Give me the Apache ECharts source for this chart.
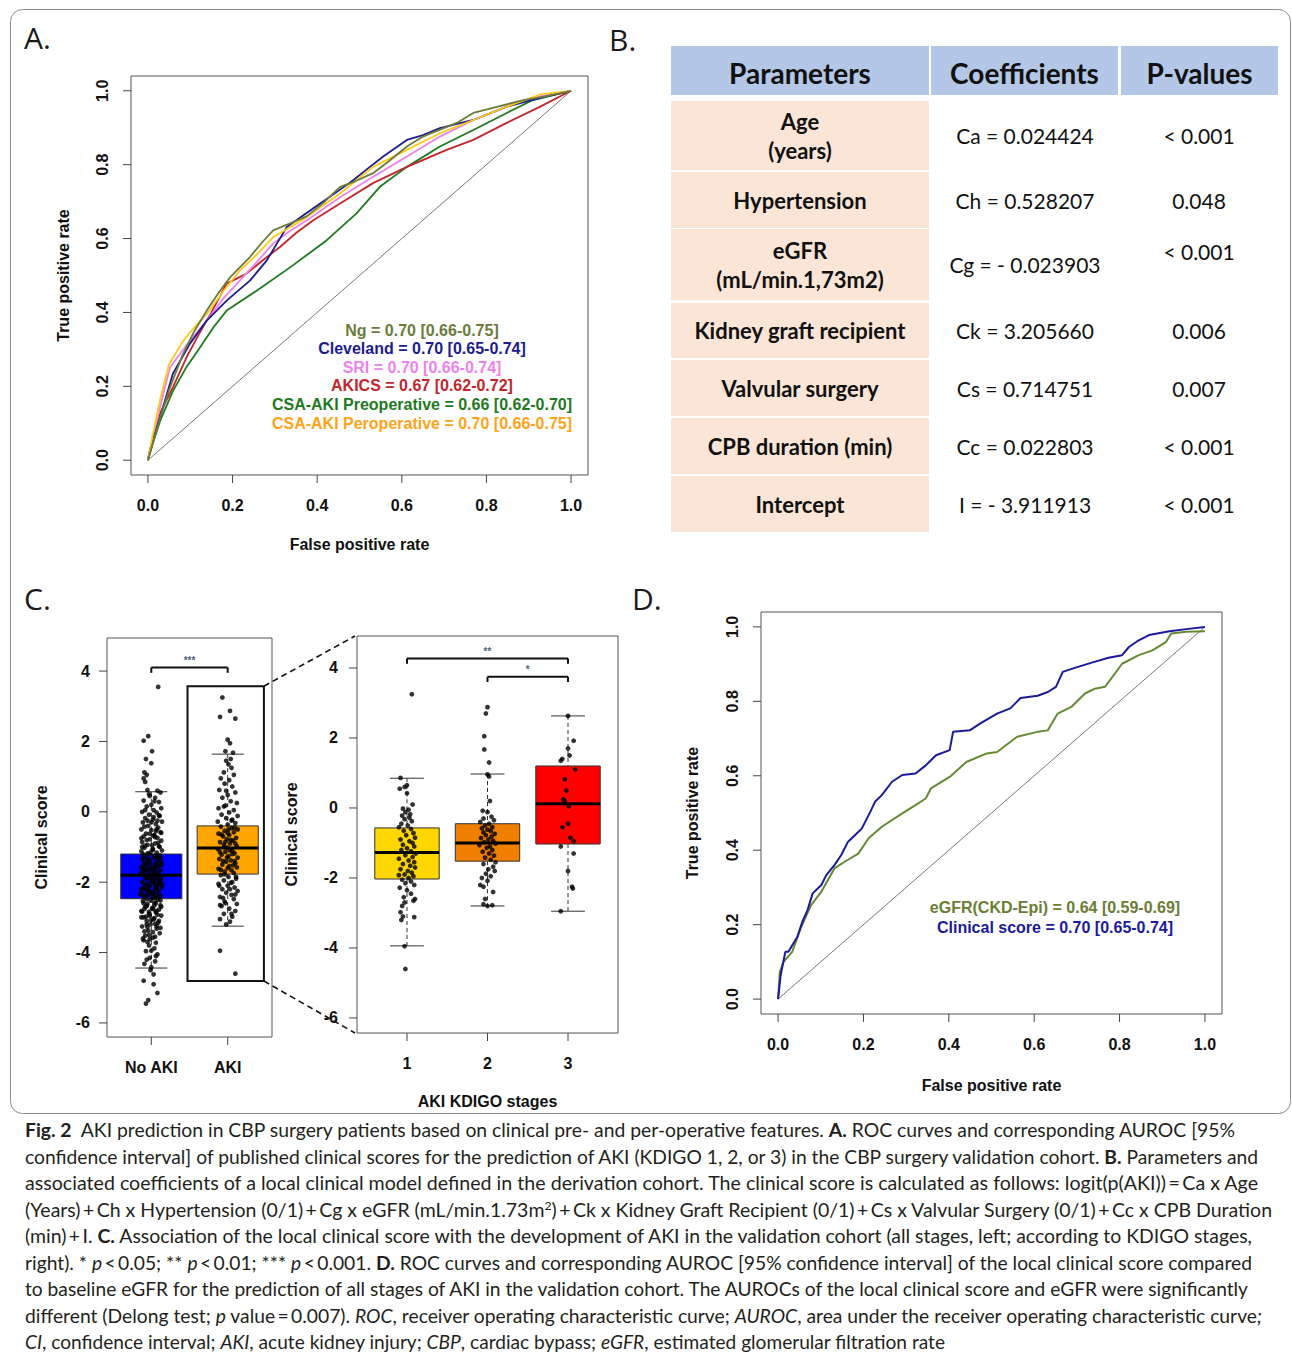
<!DOCTYPE html>
<html><head><meta charset="utf-8">
<script src="https://cdn.jsdelivr.net/npm/echarts@6.0.0/dist/echarts.min.js"></script>
<style>
html,body{margin:0;padding:0;background:#fff;}
#chart{position:absolute;left:0;top:0;width:1292px;height:1118px;}
#caption{position:absolute;left:25px;top:1117px;font-family:Lato,'Open Sans',sans-serif;font-size:19px;line-height:26.5px;color:#231f20;}
#caption .ln{white-space:nowrap;transform-origin:0 0;width:max-content;}
</style></head><body>
<div id="chart"></div>
<div id="caption"></div>
<script>
// ---------------- DATA ----------------
const TICKS01 = [0, 0.2, 0.4, 0.6, 0.8, 1.0];
const TICKS_SCORE = [-6, -4, -2, 0, 2, 4];
const TICKS_ALL = [1, 2];
const TICKS_STAGE = [1, 2, 3];
const CATS_ALL = ['No AKI', 'AKI'];
const CATS_STAGE = ['1', '2', '3'];

// Panel A ROC curves [fpr, tpr]
const ROC_NG = [[0,0],[0.01,0.04],[0.03,0.12],[0.05,0.19],[0.083,0.288],[0.11,0.35],[0.139,0.405],[0.165,0.45],[0.194,0.495],[0.241,0.55],[0.27,0.59],[0.296,0.622],[0.336,0.641],[0.375,0.66],[0.414,0.696],[0.454,0.74],[0.49,0.755],[0.532,0.777],[0.57,0.81],[0.612,0.849],[0.65,0.876],[0.69,0.895],[0.73,0.913],[0.769,0.94],[0.82,0.955],[0.887,0.975],[0.94,0.985],[1,1]];
const ROC_CLEVELAND = [[0,0],[0.005,0.03],[0.028,0.114],[0.059,0.234],[0.099,0.315],[0.139,0.378],[0.186,0.432],[0.241,0.486],[0.281,0.541],[0.328,0.631],[0.37,0.665],[0.407,0.695],[0.445,0.725],[0.485,0.758],[0.52,0.79],[0.556,0.822],[0.612,0.867],[0.65,0.88],[0.69,0.899],[0.769,0.921],[0.848,0.957],[0.927,0.981],[1,1]];
const ROC_SRI = [[0,0],[0.01,0.05],[0.03,0.15],[0.052,0.251],[0.09,0.31],[0.139,0.378],[0.18,0.44],[0.217,0.486],[0.26,0.54],[0.296,0.587],[0.335,0.62],[0.375,0.649],[0.454,0.712],[0.532,0.767],[0.612,0.822],[0.69,0.876],[0.769,0.921],[0.848,0.957],[0.927,0.985],[1,1]];
const ROC_AKICS = [[0,0],[0.01,0.05],[0.03,0.13],[0.06,0.2],[0.091,0.278],[0.12,0.34],[0.15,0.4],[0.186,0.478],[0.233,0.505],[0.27,0.54],[0.312,0.577],[0.35,0.615],[0.39,0.649],[0.454,0.695],[0.532,0.75],[0.612,0.794],[0.706,0.84],[0.769,0.867],[0.848,0.913],[0.927,0.957],[1,1]];
const ROC_CSA_PRE = [[0,0],[0.01,0.04],[0.03,0.11],[0.059,0.187],[0.09,0.25],[0.123,0.305],[0.155,0.36],[0.186,0.405],[0.257,0.459],[0.336,0.522],[0.422,0.595],[0.493,0.668],[0.548,0.74],[0.612,0.794],[0.69,0.849],[0.769,0.894],[0.848,0.94],[0.91,0.975],[1,1]];
const ROC_CSA_PER = [[0,0],[0.01,0.06],[0.03,0.17],[0.05,0.26],[0.083,0.323],[0.11,0.36],[0.139,0.396],[0.18,0.46],[0.217,0.513],[0.26,0.56],[0.296,0.604],[0.335,0.63],[0.375,0.658],[0.454,0.722],[0.532,0.794],[0.612,0.84],[0.69,0.885],[0.769,0.921],[0.848,0.957],[0.927,0.99],[1,1]];
const DIAG = [[0,0],[1,1]];
const LEG_A = ['Ng = 0.70 [0.66-0.75]','Cleveland = 0.70 [0.65-0.74]','SRI = 0.70 [0.66-0.74]','AKICS = 0.67 [0.62-0.72]','CSA-AKI Preoperative = 0.66 [0.62-0.70]','CSA-AKI Peroperative = 0.70 [0.66-0.75]'];

// Panel B table
const HEADERS = ['Parameters', 'Coefficients', 'P-values'];
const PARAMS = ['Age\n(years)', 'Hypertension', 'eGFR\n(mL/min.1,73m2)', 'Kidney graft recipient', 'Valvular surgery', 'CPB duration (min)', 'Intercept'];
const COEFS = ['Ca = 0.024424', 'Ch = 0.528207', 'Cg = - 0.023903', 'Ck = 3.205660', 'Cs = 0.714751', 'Cc = 0.022803', 'I = - 3.911913'];
const PVALS = ['< 0.001', '0.048', '< 0.001', '0.006', '0.007', '< 0.001', '< 0.001'];

// Panel C boxplots [position, lowerWhisker, Q1, median, Q3, upperWhisker]
const BOX_ALL = [[1, -4.44, -2.47, -1.8, -1.2, 0.57], [2, -3.25, -1.77, -1.03, -0.4, 1.64]];
const BOX_STAGE = [[1, -3.94, -2.03, -1.27, -0.57, 0.85], [2, -2.8, -1.52, -1.0, -0.45, 0.97], [3, -2.95, -1.03, 0.12, 1.2, 2.63]];
// jittered points [offset from group position, score]
const PTS_NOAKI = [[0.09,3.55],[-0.04,2.15],[-0.1,2.02],[0.01,1.72],[-0.07,1.5],[0.0,1.38],[-0.09,1.12],[-0.06,1.05],[-0.1,0.95],[-0.08,0.85],[-0.05,0.62],[0.08,0.6],[0.12,0.55],
[-0.02,0.45],[0.05,0.4],[-0.1,0.32],[0.1,0.28],[0.0,0.2],[-0.06,0.15],[0.13,0.1],[0.03,0.05],[-0.12,0.0],[0.07,-0.02],[-0.03,-0.08],[0.11,-0.12],[-0.08,-0.18],[0.02,-0.22],[0.14,-0.28],[-0.11,-0.3],[0.06,-0.35],[-0.04,-0.4],[0.09,-0.45],[-0.13,-0.5],[0.0,-0.52],[0.12,-0.58],[-0.07,-0.62],[0.04,-0.66],[-0.1,-0.7],[0.08,-0.74],[-0.02,-0.78],[0.13,-0.82],[-0.12,-0.86],[0.05,-0.9],[-0.05,-0.94],[0.1,-0.98],[-0.09,-1.02],[0.02,-1.05],[0.14,-1.1],[-0.13,-1.12],[0.07,-1.16],[-0.03,-1.2],
[0.11,-1.24],[-0.08,-1.27],[0.03,-1.3],[-0.12,-1.33],[0.08,-1.36],[-0.02,-1.39],[0.13,-1.42],[-0.06,-1.45],[0.05,-1.48],[-0.1,-1.5],[0.1,-1.53],[0.0,-1.56],[-0.13,-1.58],[0.06,-1.61],[-0.04,-1.64],[0.12,-1.66],[-0.09,-1.69],[0.02,-1.72],[0.09,-1.75],[-0.11,-1.78],[0.04,-1.8],[-0.05,-1.83],[0.13,-1.86],[-0.08,-1.88],[0.07,-1.91],[-0.01,-1.94],[0.11,-1.97],[-0.12,-2.0],[0.03,-2.02],[-0.06,-2.05],[0.09,-2.08],[-0.03,-2.11],[0.14,-2.14],[-0.1,-2.16],[0.05,-2.19],[-0.07,-2.22],[0.1,-2.25],[0.0,-2.28],[-0.13,-2.3],[0.07,-2.33],[-0.04,-2.36],[0.12,-2.39],[-0.09,-2.42],[0.02,-2.45],
[0.08,-2.5],[-0.11,-2.54],[0.04,-2.58],[-0.05,-2.62],[0.12,-2.66],[-0.08,-2.7],[0.01,-2.74],[0.1,-2.78],[-0.13,-2.82],[0.06,-2.86],[-0.03,-2.9],[0.13,-2.95],[-0.1,-3.0],[0.03,-3.05],[-0.06,-3.1],[0.09,-3.15],[-0.01,-3.2],[-0.12,-3.26],[0.07,-3.32],[-0.04,-3.38],[0.11,-3.45],[-0.08,-3.52],[0.02,-3.58],[-0.1,-3.65],[0.06,-3.72],[-0.03,-3.8],[0.04,-3.88],[-0.07,-3.96],[0.08,-4.05],[-0.02,-4.15],[0.05,-4.25],[-0.09,-4.32],[0.0,-4.42],
[-0.01,-4.5],[0.03,-4.62],[-0.1,-4.8],[0.03,-4.9],[0.08,-5.15],[-0.04,-5.35],[-0.07,-5.45],
[0.0,-0.3],[0.06,-0.55],[-0.06,-0.8],[0.01,-0.95],[-0.01,-1.15],[0.04,-1.25],[-0.04,-1.35],[0.07,-1.45],[-0.07,-1.55],[0.0,-1.62],[0.04,-1.7],[-0.03,-1.76],[0.06,-1.84],[-0.06,-1.9],[0.0,-1.98],[0.05,-2.04],[-0.02,-2.1],[0.07,-2.18],[-0.05,-2.24],[0.02,-2.3],[-0.08,-2.38],[0.04,-2.44],[-0.01,-2.52],[0.06,-2.6],[-0.06,-2.68],[0.02,-2.76],[-0.03,-2.84],[0.08,-2.92],[-0.07,-2.98],[0.0,-3.08],[0.05,-3.18],[-0.05,-3.28],[0.02,-3.42],[-0.02,-3.62],[0.1,-0.1],[-0.09,-0.42],[0.03,-0.68],[-0.12,-1.0],[0.12,-1.3],[-0.12,-1.62],[0.12,-1.92],[-0.13,-2.2],[0.12,-2.52],[-0.12,-2.84],[0.1,-3.1],[-0.09,-3.4],[0.09,-0.88],[-0.1,-1.4],[0.1,-2.0],[-0.1,-2.6],
[0.13,-0.6],[-0.13,-0.75],[0.11,-1.0],[-0.11,-1.2],[0.14,-1.5],[-0.14,-1.75],[0.14,-2.05],[-0.14,-2.35],[0.13,-2.7],[-0.13,-3.0],[0.12,-3.3],[-0.11,-3.6],[0.03,-0.15],[-0.05,-0.25],[0.07,-0.5],[-0.02,-0.62],[0.05,-0.72],[-0.08,-0.96],[0.02,-1.08],[-0.05,-1.18],[0.09,-1.28],[-0.02,-1.46],[0.05,-1.58],[-0.08,-1.66],[0.08,-1.8],[-0.01,-1.86],[0.03,-1.94],[-0.09,-2.08],[0.06,-2.12],[-0.04,-2.2],[0.01,-2.35],[0.09,-2.42],[-0.06,-2.48],[0.04,-2.66],[-0.09,-2.76],[0.06,-2.82],[-0.02,-2.96],[0.04,-3.02],[-0.06,-3.2],[0.07,-3.25],[-0.03,-3.5],[0.05,-3.55],[-0.05,-3.7],[0.0,-3.95],[0.06,-4.1],[-0.06,-4.2],[0.08,-0.25],[-0.08,0.05],[0.04,0.3],[-0.03,0.5]];
const PTS_AKI = [[-0.07,3.25],[0.03,2.87],[-0.1,2.7],[0.1,2.65],[0.0,2.05],[0.03,1.95],[-0.03,1.72],[0.07,1.68],[-0.02,1.45],[0.01,1.35],[0.05,1.25],[-0.05,1.12],[0.08,1.05],[-0.09,0.95],[0.02,0.9],[-0.04,0.8],[0.06,0.72],[-0.11,0.62],[0.1,0.55],[0.0,0.48],[-0.07,0.4],[0.04,0.3],[0.12,0.25],[-0.03,0.18],[-0.12,0.1],[0.08,0.05],[0.02,-0.02],[-0.08,-0.08],[0.13,-0.12],[-0.02,-0.18],[0.06,-0.22],[-0.13,-0.28],[0.1,-0.32],[0.0,-0.36],
[-0.09,-0.42],[0.05,-0.46],[0.13,-0.5],[-0.04,-0.54],[0.08,-0.58],[-0.12,-0.62],[0.02,-0.66],[-0.06,-0.7],[0.11,-0.74],[-0.01,-0.78],[0.07,-0.82],[-0.1,-0.86],[0.03,-0.9],[-0.05,-0.94],[0.12,-0.98],[0.0,-1.02],[-0.13,-1.06],[0.06,-1.1],[-0.03,-1.14],[0.09,-1.18],[-0.08,-1.22],[0.01,-1.26],[0.13,-1.3],[-0.11,-1.34],[0.04,-1.38],[-0.02,-1.42],[0.1,-1.46],[-0.07,-1.5],[0.02,-1.54],[0.12,-1.58],[-0.12,-1.62],[0.05,-1.66],[-0.04,-1.7],[0.08,-1.74],
[-0.09,-1.8],[0.01,-1.85],[0.11,-1.9],[-0.05,-1.95],[0.06,-2.0],[-0.12,-2.05],[0.0,-2.1],[0.09,-2.15],[-0.07,-2.2],[0.13,-2.25],[-0.02,-2.3],[0.05,-2.36],[-0.1,-2.42],[0.08,-2.48],[-0.04,-2.55],[0.12,-2.62],[-0.08,-2.68],[0.02,-2.75],[0.1,-2.82],[-0.05,-2.9],[0.06,-2.98],[-0.1,-3.05],[0.03,-3.12],[-0.02,-3.2],[-0.1,-3.95],[0.1,-4.6],
[0.0,-0.6],[0.04,-0.8],[-0.04,-1.0],[0.06,-1.2],[-0.06,-1.4],[0.0,-1.6],[0.03,-2.2],[-0.03,-2.6],[0.05,-0.25],[-0.05,0.15],
[0.09,-0.45],[-0.08,-0.65],[0.1,-0.9],[-0.1,-1.15],[0.09,-1.4],[-0.09,-1.65],[0.11,-1.85],[-0.11,-2.1],[0.1,-2.35],[-0.1,-2.65],[0.05,-2.9],[-0.03,-0.85],[0.03,-1.1],[-0.01,-1.3],[0.07,-1.52],[-0.04,-1.78],[0.04,-2.02],[-0.06,-2.45],[0.01,-0.5],[-0.02,0.6],[0.04,1.5]];
const PTS_STAGE1 = [[0.06,3.25],[-0.08,0.86],[0.0,0.65],[-0.03,0.6],[-0.09,0.55],[0.0,0.42],[0.07,0.1],[-0.05,-0.02],[0.02,-0.05],[-0.02,-0.12],[0.04,-0.18],[-0.06,-0.22],[0.03,-0.28],[-0.03,-0.32],[0.06,-0.38],[-0.07,-0.45],[0.01,-0.5],[-0.1,-0.55],[0.05,-0.6],[-0.04,-0.65],[0.08,-0.72],[-0.01,-0.78],[0.1,-0.85],[-0.08,-0.9],[0.03,-0.95],[0.07,-1.0],[-0.05,-1.05],[0.09,-1.1],[0.0,-1.15],[-0.07,-1.2],[0.05,-1.24],[0.11,-1.3],[-0.02,-1.35],[0.07,-1.4],[-0.1,-1.45],[0.02,-1.5],[0.09,-1.55],[-0.05,-1.6],[0.04,-1.65],[0.1,-1.7],[-0.08,-1.75],[0.01,-1.8],[0.06,-1.85],[-0.03,-1.9],[-0.1,-1.92],[0.08,-1.95],[0.02,-2.0],[-0.06,-2.05],[0.05,-2.1],[-0.02,-2.15],[0.09,-2.2],[-0.09,-2.28],[0.0,-2.35],[0.05,-2.45],[-0.04,-2.55],[0.1,-2.6],[0.08,-2.65],[-0.03,-2.7],[-0.06,-2.8],[-0.08,-2.98],[-0.05,-3.1],[0.09,-3.12],[-0.07,-3.2],[-0.03,-3.95],[-0.02,-4.6]];
const PTS_STAGE2 = [[0.0,2.88],[-0.02,2.7],[-0.04,2.05],[-0.04,1.67],[0.02,1.3],[0.0,0.96],[0.02,0.9],[0.03,0.2],[-0.06,-0.08],[0.0,-0.12],[-0.05,-0.3],[0.05,-0.25],[0.08,-0.35],[-0.09,-0.4],[0.02,-0.45],[-0.03,-0.5],[0.06,-0.55],[-0.07,-0.58],[0.0,-0.62],[0.04,-0.66],[-0.05,-0.7],[0.09,-0.74],[-0.02,-0.78],[0.05,-0.82],[-0.08,-0.86],[0.01,-0.9],[0.07,-0.94],[-0.04,-0.98],[0.1,-1.02],[-0.1,-1.06],[0.03,-1.1],[-0.01,-1.14],[0.06,-1.2],[-0.06,-1.25],[0.02,-1.3],[0.08,-1.36],[-0.03,-1.42],[0.04,-1.48],[0.1,-1.55],[-0.05,-1.6],[0.07,-1.68],[0.01,-1.75],[0.09,-1.8],[-0.02,-1.88],[0.04,-1.95],[-0.07,-2.0],[0.0,-2.08],[-0.09,-2.2],[-0.05,-2.25],[0.07,-2.4],[-0.03,-2.6],[-0.05,-2.75],[0.06,-2.78],[0.0,-2.8]];
const PTS_STAGE3 = [[0.0,2.63],[0.07,1.92],[0.0,1.7],[0.02,1.5],[-0.07,1.4],[-0.09,1.35],[0.09,1.1],[-0.04,0.82],[-0.02,0.5],[-0.06,0.25],[-0.04,0.2],[0.01,0.05],[0.0,-0.45],[-0.07,-0.55],[0.03,-0.85],[0.07,-0.95],[-0.09,-1.1],[0.07,-1.3],[0.0,-1.8],[0.05,-2.25],[0.06,-2.3],[-0.09,-2.95]];
// significance brackets [from, to, height]
const SIG_ALL = [[1, 2, 4.1]];
const SIG_ALL_LABELS = ['***'];
const SIG_STAGE = [[1, 3, 4.27], [2, 3, 3.75]];
const SIG_STAGE_LABELS = ['**', '*'];
// zoom box around AKI group [x1, x2, yLow, yHigh]
const ZOOM_BOX = [[1.474, 2.474, -4.81, 3.57]];

// Panel D ROC curves
const ROC_EGFR = [[0,0],[0.004,0.073],[0.013,0.1],[0.033,0.127],[0.053,0.19],[0.077,0.252],[0.101,0.288],[0.132,0.351],[0.156,0.369],[0.188,0.391],[0.212,0.432],[0.243,0.463],[0.291,0.499],[0.322,0.521],[0.346,0.539],[0.358,0.566],[0.402,0.597],[0.441,0.637],[0.489,0.66],[0.513,0.664],[0.56,0.705],[0.608,0.718],[0.632,0.722],[0.655,0.767],[0.687,0.785],[0.719,0.821],[0.742,0.834],[0.766,0.839],[0.806,0.901],[0.845,0.924],[0.877,0.937],[0.909,0.96],[0.921,0.982],[0.956,0.987],[1,0.988]];
const ROC_SCORE = [[0,0],[0.006,0.064],[0.017,0.127],[0.024,0.127],[0.045,0.167],[0.057,0.208],[0.069,0.239],[0.081,0.284],[0.101,0.306],[0.113,0.333],[0.132,0.36],[0.148,0.387],[0.164,0.423],[0.18,0.44],[0.196,0.458],[0.216,0.503],[0.227,0.53],[0.243,0.548],[0.267,0.584],[0.291,0.602],[0.322,0.606],[0.346,0.628],[0.37,0.655],[0.402,0.669],[0.41,0.718],[0.449,0.722],[0.473,0.74],[0.513,0.767],[0.544,0.781],[0.568,0.809],[0.608,0.815],[0.632,0.825],[0.651,0.839],[0.667,0.879],[0.695,0.89],[0.735,0.904],[0.774,0.917],[0.806,0.924],[0.822,0.946],[0.845,0.964],[0.869,0.978],[0.917,0.988],[0.956,0.994],[1,1]];
const LEG_D = ['eGFR(CKD-Epi) = 0.64 [0.59-0.69]', 'Clinical score = 0.70 [0.65-0.74]'];

// Caption
const CAPTION_LINES = [
 '<b>Fig.\u00a02</b>\u00a0\u00a0AKI prediction in CBP surgery patients based on clinical pre- and per-operative features. <b>A.</b> ROC curves and corresponding AUROC [95%',
 'confidence interval] of published clinical scores for the prediction of AKI (KDIGO 1, 2, or 3) in the CBP surgery validation cohort. <b>B.</b> Parameters and',
 'associated coefficients of a local clinical model defined in the derivation cohort. The clinical score is calculated as follows: logit(p(AKI))\u2009=\u2009Ca x Age',
 '(Years)\u2009+\u2009Ch x Hypertension (0/1)\u2009+\u2009Cg x eGFR (mL/min.1.73m<sup style="font-size:12px;line-height:0">2</sup>)\u2009+\u2009Ck x Kidney Graft Recipient (0/1)\u2009+\u2009Cs x Valvular Surgery (0/1)\u2009+\u2009Cc x CPB Duration',
 '(min)\u2009+\u2009I. <b>C.</b> Association of the local clinical score with the development of AKI in the validation cohort (all stages, left; according to KDIGO stages,',
 'right). * <i>p</i>\u2009&lt;\u20090.05; ** <i>p</i>\u2009&lt;\u20090.01; *** <i>p</i>\u2009&lt;\u20090.001. <b>D.</b> ROC curves and corresponding AUROC [95% confidence interval] of the local clinical score compared',
 'to baseline eGFR for the prediction of all stages of AKI in the validation cohort. The AUROCs of the local clinical score and eGFR were significantly',
 'different (Delong test; <i>p</i> value\u2009=\u20090.007). <i>ROC</i>, receiver operating characteristic curve; <i>AUROC</i>, area under the receiver operating characteristic curve<i>;</i>',
 '<i>CI</i>, confidence interval; <i>AKI</i>, acute kidney injury; <i>CBP</i>, cardiac bypass; <i>eGFR</i>, estimated glomerular filtration rate'
];

// ---------------- STYLE / LAYOUT ----------------
const FONT = "'Liberation Sans', Arial, Helvetica, sans-serif";
const COL_A = ['#6b7b3b', '#1c1c8c', '#ee82ee', '#c0272d', '#1f7a1f', '#ffc81a'];
const COL_A_TEXT = ['#6b7b3b', '#1c1c8c', '#ee82ee', '#c0272d', '#1f7a1f', '#ffa31a'];
const COL_BOX_ALL = ['#0000ff', '#ffa500'];
const COL_BOX_STAGE = ['#ffd700', '#f07f00', '#ff0000'];
const COL_D = ['#668a34', '#1a1a9a'];
const COL_D_TEXT = ['#6b7d35', '#1a1a9a'];
const CAP_W = [1210, 1233, 1233, 1247, 1227, 1227, 1223, 1237, 920];
const TICK_LEN = 8;

// axis extents [xMin, xMax, yMin, yMax] per grid (R-style 4% padding)
const EXT = [
  [-0.04, 1.04, -0.04, 1.04],
  [0.42, 2.58, -6.4, 4.94],
  [0.379, 3.621, -6.43, 4.914],
  [-0.04, 1.04, -0.04, 1.04]
];

const fmt1 = v => v.toFixed(1);
function mkAxis(gridIndex, min, max, ticks, fmt, o) {
  o = o || {};
  return {
    type: 'value', gridIndex, min, max,
    axisLine: {show: false, onZero: false}, splitLine: {show: false},
    axisTick: {show: false},
    axisLabel: {customValues: ticks, formatter: fmt, color: '#111', fontFamily: FONT, fontWeight: 'bold', fontSize: 16, margin: o.margin || 21, rotate: o.rotate || 0},
    name: o.name || '', nameLocation: 'middle', nameGap: o.nameGap || 60,
    nameTextStyle: {color: '#111', fontFamily: FONT, fontWeight: 'bold', fontSize: 16}
  };
}
const gridStyle = {show: true, borderColor: '#555', borderWidth: 1, backgroundColor: 'transparent', containLabel: false};

// R-style outward ticks drawn on the frame through the axis scales
function tickSeries(gi, vals, dir) {
  const e = EXT[gi];
  return {
    type: 'custom', xAxisIndex: gi, yAxisIndex: gi, clip: false, silent: true, z: 6,
    data: vals.map(v => [v]),
    renderItem: function (params, api) {
      const v = api.value(0);
      if (dir === 'x') {
        const p = api.coord([v, e[2]]);
        return {type: 'line', shape: {x1: p[0], y1: p[1], x2: p[0], y2: p[1] + TICK_LEN}, style: {stroke: '#444', lineWidth: 1}};
      }
      const p = api.coord([e[0], v]);
      return {type: 'line', shape: {x1: p[0], y1: p[1], x2: p[0] - TICK_LEN, y2: p[1]}, style: {stroke: '#444', lineWidth: 1}};
    }
  };
}

function boxRender(colors) {
  return function (params, api) {
    const p = api.value(0), lo = api.value(1), q1 = api.value(2), md = api.value(3), q3 = api.value(4), hi = api.value(5);
    const a = api.coord([p - 0.4, q3]), b = api.coord([p + 0.4, q1]);
    const m1 = api.coord([p - 0.4, md]), m2 = api.coord([p + 0.4, md]);
    const t = api.coord([p, hi]), bt = api.coord([p, lo]);
    const c1 = api.coord([p - 0.21, hi]), c2 = api.coord([p + 0.21, hi]);
    const d1 = api.coord([p - 0.21, lo]), d2 = api.coord([p + 0.21, lo]);
    const stroke = '#333';
    return {type: 'group', children: [
      {type: 'line', shape: {x1: t[0], y1: t[1], x2: t[0], y2: a[1]}, style: {stroke, lineWidth: 1, lineDash: [4, 3]}},
      {type: 'line', shape: {x1: bt[0], y1: b[1], x2: bt[0], y2: bt[1]}, style: {stroke, lineWidth: 1, lineDash: [4, 3]}},
      {type: 'line', shape: {x1: c1[0], y1: c1[1], x2: c2[0], y2: c2[1]}, style: {stroke, lineWidth: 1}},
      {type: 'line', shape: {x1: d1[0], y1: d1[1], x2: d2[0], y2: d2[1]}, style: {stroke, lineWidth: 1}},
      {type: 'rect', shape: {x: a[0], y: a[1], width: b[0] - a[0], height: b[1] - a[1]}, style: {fill: colors[params.dataIndex], stroke, lineWidth: 1}},
      {type: 'line', shape: {x1: m1[0], y1: m1[1], x2: m2[0], y2: m2[1]}, style: {stroke: '#000', lineWidth: 3}}
    ]};
  };
}
function sigRender(labels) {
  return function (params, api) {
    const x1 = api.value(0), x2 = api.value(1), y = api.value(2);
    const p1 = api.coord([x1, y]), p2 = api.coord([x2, y]);
    const e1 = api.coord([x1, y - 0.15]), e2 = api.coord([x2, y - 0.15]);
    return {type: 'group', children: [
      {type: 'line', shape: {x1: p1[0], y1: p1[1], x2: p2[0], y2: p2[1]}, style: {stroke: '#111', lineWidth: 2}},
      {type: 'line', shape: {x1: e1[0], y1: p1[1], x2: e1[0], y2: e1[1]}, style: {stroke: '#111', lineWidth: 2}},
      {type: 'line', shape: {x1: e2[0], y1: p2[1], x2: e2[0], y2: e2[1]}, style: {stroke: '#111', lineWidth: 2}},
      {type: 'text', x: (p1[0] + p2[0]) / 2, y: p1[1] - 2, style: {text: labels[params.dataIndex], fill: '#55627e', fontSize: 10, fontFamily: FONT, fontWeight: 'bold', align: 'center', verticalAlign: 'bottom'}}
    ]};
  };
}
function zoomRender(params, api) {
  const a = api.coord([api.value(0), api.value(3)]), b = api.coord([api.value(1), api.value(2)]);
  return {type: 'rect', shape: {x: a[0], y: a[1], width: b[0] - a[0], height: b[1] - a[1]}, style: {fill: 'none', stroke: '#111', lineWidth: 2}};
}
function line(data, color, xi, width) {
  return {type: 'line', xAxisIndex: xi, yAxisIndex: xi, data, showSymbol: false, symbol: 'none', lineStyle: {color, width: width || 1.8}, z: 3, silent: true};
}
function pts(data, pos, xi) {
  return {type: 'scatter', xAxisIndex: xi, yAxisIndex: xi, data: data.map(d => [pos + d[0], d[1]]), symbol: 'circle', symbolSize: 4.8, itemStyle: {color: '#000'}, z: 4, silent: true};
}

const chart = echarts.init(document.getElementById('chart'), null, {renderer: 'svg'});
chart.setOption({
  animation: false,
  backgroundColor: '#fff',
  grid: [
    Object.assign({left: 131, top: 76, width: 457, height: 399}, gridStyle),
    Object.assign({left: 107, top: 638, width: 165, height: 399}, gridStyle),
    Object.assign({left: 357, top: 636, width: 261, height: 397}, gridStyle),
    Object.assign({left: 761, top: 612, width: 461, height: 402}, gridStyle)
  ],
  xAxis: [
    mkAxis(0, EXT[0][0], EXT[0][1], TICKS01, fmt1, {name: 'False positive rate', nameGap: 61, margin: 22}),
    mkAxis(1, EXT[1][0], EXT[1][1], TICKS_ALL, v => CATS_ALL[Math.round(v) - 1], {margin: 22}),
    mkAxis(2, EXT[2][0], EXT[2][1], TICKS_STAGE, v => CATS_STAGE[Math.round(v) - 1], {name: 'AKI KDIGO stages', nameGap: 60, margin: 22}),
    mkAxis(3, EXT[3][0], EXT[3][1], TICKS01, fmt1, {name: 'False positive rate', nameGap: 63, margin: 22})
  ],
  yAxis: [
    mkAxis(0, EXT[0][2], EXT[0][3], TICKS01, fmt1, {name: 'True positive rate', nameGap: 60, rotate: 90, margin: 21}),
    mkAxis(1, EXT[1][2], EXT[1][3], TICKS_SCORE, v => String(v), {name: 'Clinical score', nameGap: 58, margin: 17}),
    mkAxis(2, EXT[2][2], EXT[2][3], TICKS_SCORE, v => String(v), {name: 'Clinical score', nameGap: 58, margin: 19}),
    mkAxis(3, EXT[3][2], EXT[3][3], TICKS01, fmt1, {name: 'True positive rate', nameGap: 61, rotate: 90, margin: 21})
  ],
  series: [
    tickSeries(0, TICKS01, 'x'), tickSeries(0, TICKS01, 'y'),
    tickSeries(1, TICKS_ALL, 'x'), tickSeries(1, TICKS_SCORE, 'y'),
    tickSeries(2, TICKS_STAGE, 'x'), tickSeries(2, TICKS_SCORE, 'y'),
    tickSeries(3, TICKS01, 'x'), tickSeries(3, TICKS01, 'y'),
    line(DIAG, '#555', 0, 0.8),
    line(ROC_CSA_PRE, COL_A[4], 0),
    line(ROC_AKICS, COL_A[3], 0),
    line(ROC_SRI, COL_A[2], 0),
    line(ROC_CLEVELAND, COL_A[1], 0),
    line(ROC_CSA_PER, COL_A[5], 0),
    line(ROC_NG, COL_A[0], 0),
    {type: 'custom', xAxisIndex: 1, yAxisIndex: 1, data: BOX_ALL, renderItem: boxRender(COL_BOX_ALL), z: 2, silent: true},
    pts(PTS_NOAKI, 1, 1),
    pts(PTS_AKI, 2, 1),
    {type: 'custom', xAxisIndex: 1, yAxisIndex: 1, data: ZOOM_BOX, renderItem: zoomRender, z: 5, silent: true},
    {type: 'custom', xAxisIndex: 1, yAxisIndex: 1, data: SIG_ALL, renderItem: sigRender(SIG_ALL_LABELS), z: 5, silent: true},
    {type: 'custom', xAxisIndex: 2, yAxisIndex: 2, data: BOX_STAGE, renderItem: boxRender(COL_BOX_STAGE), z: 2, silent: true},
    pts(PTS_STAGE1, 1, 2),
    pts(PTS_STAGE2, 2, 2),
    pts(PTS_STAGE3, 3, 2),
    {type: 'custom', xAxisIndex: 2, yAxisIndex: 2, data: SIG_STAGE, renderItem: sigRender(SIG_STAGE_LABELS), z: 5, silent: true},
    line(DIAG, '#555', 3, 0.8),
    line(ROC_EGFR, COL_D[0], 3, 2),
    line(ROC_SCORE, COL_D[1], 3, 2)
  ]
});

// ---------------- GRAPHIC (annotations, table) ----------------
const G = [];
G.push({type: 'rect', shape: {x: 10.5, y: 9.5, width: 1280, height: 1104, r: 12}, style: {fill: 'none', stroke: '#8c8c8c', lineWidth: 1}, silent: true, z: 0});
const letterStyle = {fill: '#1a1a1a', fontSize: 30, fontFamily: "'Open Sans', sans-serif", align: 'left', verticalAlign: 'middle'};
[['A.', 24, 37], ['B.', 609, 39], ['C.', 24, 598], ['D.', 632, 598]].forEach(l =>
  G.push({type: 'text', x: l[1], y: l[2], style: Object.assign({text: l[0]}, letterStyle), silent: true}));
// Panel A legend
LEG_A.forEach((t, i) => G.push({type: 'text', x: 422, y: 330 + i * 18.6, z: 10,
  style: {text: t, fill: COL_A_TEXT[i], fontSize: 16, fontFamily: FONT, fontWeight: 'bold', align: 'center', verticalAlign: 'middle'}, silent: true}));
// Panel D legend
LEG_D.forEach((t, i) => G.push({type: 'text', x: 1055, y: 907 + i * 20, z: 10,
  style: {text: t, fill: COL_D_TEXT[i], fontSize: 16, fontFamily: FONT, fontWeight: 'bold', align: 'center', verticalAlign: 'middle'}, silent: true}));
// Panel B table
const COL_X = [671, 931, 1121], COL_W = [258, 187, 157];
const ROW_T = [101, 172, 229, 303, 360, 418, 476], ROW_B = [170, 228, 300, 358, 416, 474, 532];
const TFONT = "Lato, 'Open Sans', sans-serif";
HEADERS.forEach((h, j) => {
  G.push({type: 'rect', shape: {x: COL_X[j], y: 46, width: COL_W[j], height: 49}, style: {fill: '#b4c7e7'}, silent: true});
  G.push({type: 'text', x: COL_X[j] + COL_W[j] / 2, y: 73, style: {text: h, fill: '#111', fontSize: 28, fontFamily: TFONT, fontWeight: 'bold', align: 'center', verticalAlign: 'middle'}, silent: true});
});
PARAMS.forEach((p, i) => {
  const cy = (ROW_T[i] + ROW_B[i]) / 2;
  G.push({type: 'rect', shape: {x: COL_X[0], y: ROW_T[i], width: COL_W[0], height: ROW_B[i] - ROW_T[i]}, style: {fill: '#fbe5d6'}, silent: true});
  G.push({type: 'text', x: COL_X[0] + COL_W[0] / 2, y: cy, style: {text: p, fill: '#111', fontSize: 22, lineHeight: 29, fontFamily: TFONT, fontWeight: 'bold', align: 'center', verticalAlign: 'middle'}, silent: true});
  G.push({type: 'text', x: 1025, y: cy, style: {text: COEFS[i], fill: '#111', fontSize: 21, fontFamily: TFONT, align: 'center', verticalAlign: 'middle'}, silent: true});
  G.push({type: 'text', x: 1199, y: i === 2 ? ROW_T[i] + 22 : cy, style: {text: PVALS[i], fill: '#111', fontSize: 21, fontFamily: TFONT, align: 'center', verticalAlign: 'middle'}, silent: true});
});
// dashed connectors between the AKI zoom box and the stage panel
const zb = ZOOM_BOX[0];
const pTop = chart.convertToPixel({gridIndex: 1}, [zb[1], zb[3]]);
const pBot = chart.convertToPixel({gridIndex: 1}, [zb[1], zb[2]]);
const qTop = chart.convertToPixel({gridIndex: 2}, [EXT[2][0], EXT[2][3]]);
const qBot = chart.convertToPixel({gridIndex: 2}, [EXT[2][0], EXT[2][2]]);
[[pTop, qTop], [pBot, qBot]].forEach(s => G.push({type: 'line', shape: {x1: s[0][0], y1: s[0][1], x2: s[1][0] - 2, y2: s[1][1]},
  style: {stroke: '#111', lineWidth: 1.6, lineDash: [6, 4]}, silent: true, z: 10}));
chart.setOption({graphic: G});

// ---------------- CAPTION ----------------
const cap = document.getElementById('caption');
const lineEls = CAPTION_LINES.map(h => { const d = document.createElement('div'); d.className = 'ln'; d.innerHTML = h; cap.appendChild(d); return d; });
function fit() {
  lineEls.forEach((el, i) => {
    el.style.transform = 'none';
    const w = el.getBoundingClientRect().width;
    if (w > 0) el.style.transform = 'scaleX(' + (CAP_W[i] / w) + ')';
  });
}
fit();
if (document.fonts && document.fonts.ready) document.fonts.ready.then(fit);
</script>
</body></html>
